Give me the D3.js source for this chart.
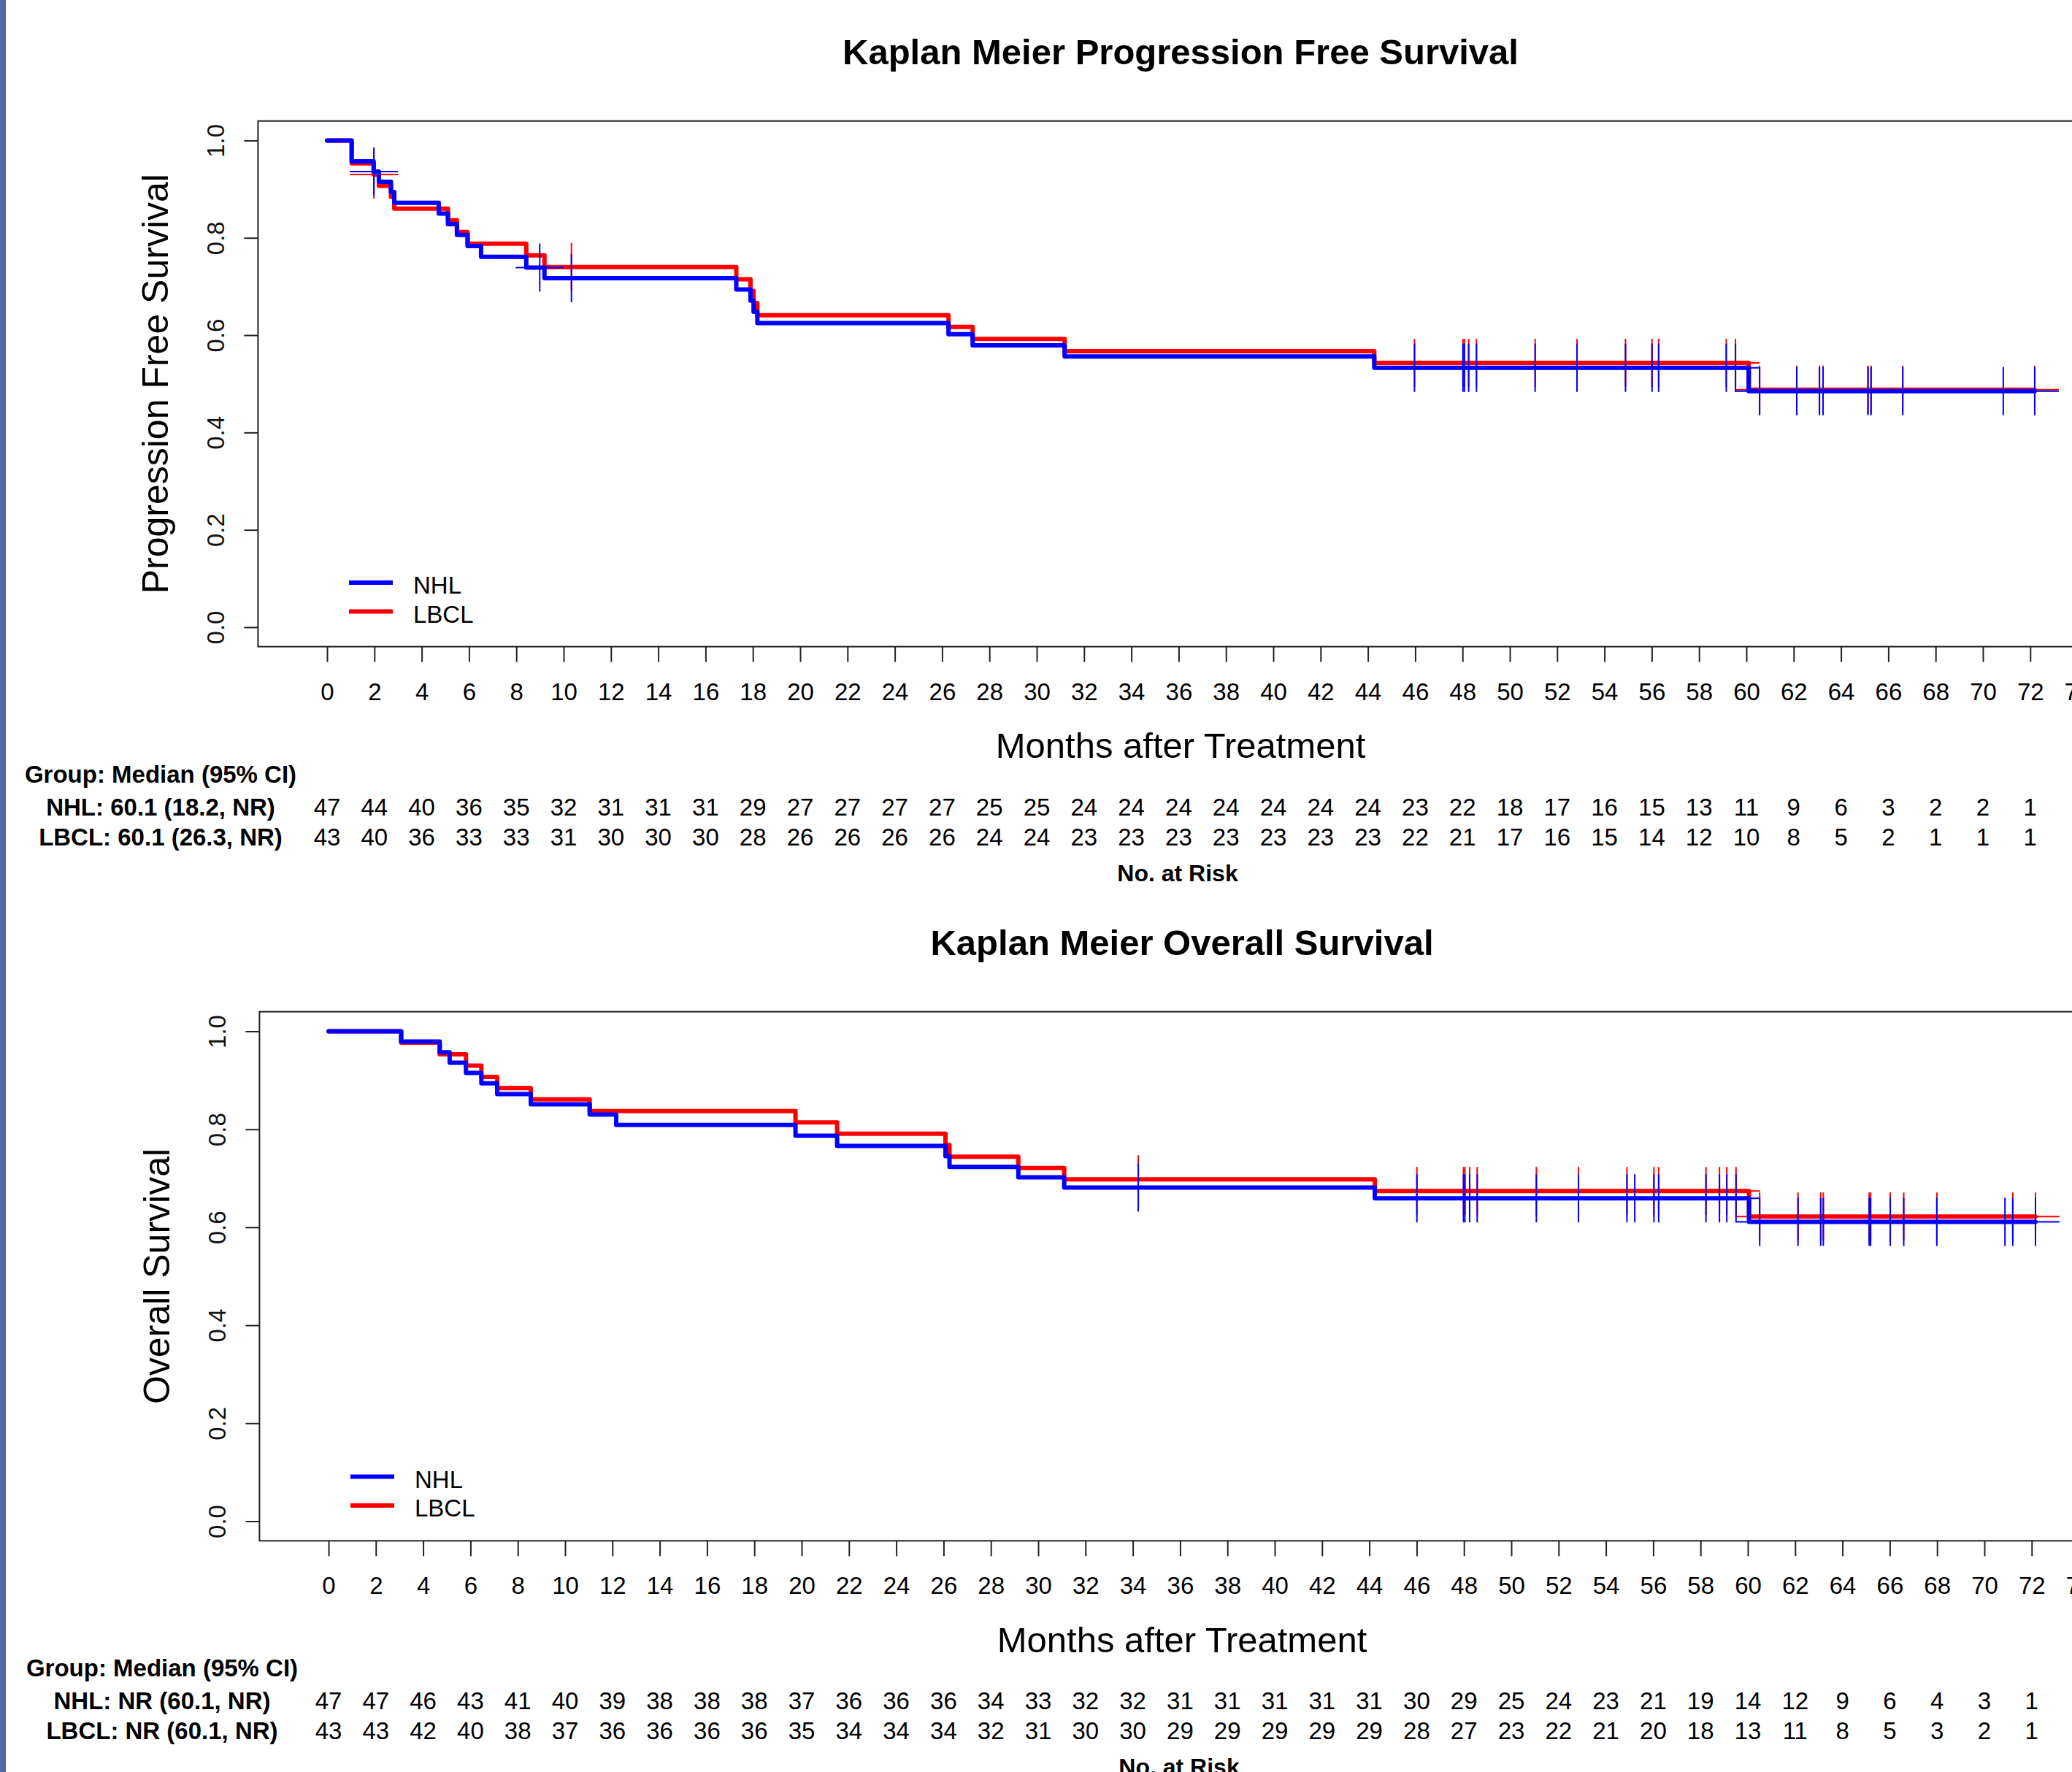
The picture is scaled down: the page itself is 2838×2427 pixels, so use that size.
<!DOCTYPE html>
<html>
<head>
<meta charset="utf-8">
<script src="https://cdn.jsdelivr.net/npm/d3@7"></script>
<style>
  body { margin: 0; background: #fff; }
  svg { display: block; font-family: "Liberation Sans", Arial, Helvetica, sans-serif; }
  .title { font-size: 49px; font-weight: bold; }
  .axis-title { font-size: 49px; }
  .axis-title.y { font-size: 50px; }
  .tick-label { font-size: 33px; }
  .legend-label { font-size: 33px; }
  .risk { font-size: 33px; }
  .group-label { font-size: 33px; font-weight: bold; }
  .risk-title { font-size: 32px; font-weight: bold; }
</style>
</head>
<body>
<div id="chart"></div>
<script>
// Axis ticks
const xTicks = [0, 2, 4, 6, 8, 10, 12, 14, 16, 18, 20, 22, 24, 26, 28, 30, 32, 34, 36,
                38, 40, 42, 44, 46, 48, 50, 52, 54, 56, 58, 60, 62, 64, 66, 68, 70, 72, 74];
const yTicks = [0, 0.2, 0.4, 0.6, 0.8, 1.0];
const riskTimes = [0, 2, 4, 6, 8, 10, 12, 14, 16, 18, 20, 22, 24, 26, 28, 30, 32, 34, 36,
                   38, 40, 42, 44, 46, 48, 50, 52, 54, 56, 58, 60, 62, 64, 66, 68, 70, 72];
const groups = ['NHL', 'LBCL'];

// Progression free survival: step times (months) and survival after each step
const pfsNhlTimes = [0, 1.04, 1.97, 2.19, 2.70, 2.84, 4.72, 5.11, 5.49, 5.94, 6.51, 8.42, 9.19,
                     17.30, 17.90, 18.03, 18.19, 26.27, 27.29, 31.18, 44.27, 60.10];
const pfsNhlSurv  = [1, 0.957, 0.936, 0.915, 0.894, 0.872, 0.850, 0.828, 0.806, 0.783, 0.761, 0.739, 0.717,
                     0.694, 0.671, 0.648, 0.625, 0.602, 0.579, 0.556, 0.533, 0.485];
const pfsNhlCensor = [1.98, 8.99, 10.33, 45.97, 48.02, 48.08, 48.26, 48.59, 51.07, 52.84, 54.89, 56.01,
                      56.29, 59.15, 59.54, 60.56, 62.13, 63.09, 63.24, 65.14, 65.27, 66.61, 70.86, 72.19];
const pfsLbclTimes = [0, 1.04, 1.97, 2.19, 2.70, 2.84, 5.11, 5.49, 5.94, 8.42, 9.19,
                      17.30, 17.90, 18.03, 18.19, 26.27, 27.29, 31.18, 44.27, 60.10];
const pfsLbclSurv  = [1, 0.953, 0.930, 0.907, 0.884, 0.860, 0.836, 0.812, 0.788, 0.764, 0.740,
                      0.715, 0.691, 0.666, 0.641, 0.617, 0.592, 0.567, 0.543, 0.488];
const pfsLbclCensor = [1.98, 10.33, 45.97, 48.02, 48.08, 48.26, 48.59, 51.07, 52.84, 54.89, 56.01,
                       56.29, 59.15, 59.54, 60.56, 62.13, 63.09, 63.24, 65.14, 65.27, 66.61, 72.19];
const pfsNhlRisk  = [47, 44, 40, 36, 35, 32, 31, 31, 31, 29, 27, 27, 27, 27, 25, 25, 24, 24, 24,
                     24, 24, 24, 24, 23, 22, 18, 17, 16, 15, 13, 11, 9, 6, 3, 2, 2, 1];
const pfsLbclRisk = [43, 40, 36, 33, 33, 31, 30, 30, 30, 28, 26, 26, 26, 26, 24, 24, 23, 23, 23,
                     23, 23, 23, 23, 22, 21, 17, 16, 15, 14, 12, 10, 8, 5, 2, 1, 1, 1];

// Overall survival
const osNhlTimes = [0, 3.07, 4.70, 5.12, 5.81, 6.46, 7.13, 8.55, 11.04, 12.16, 19.74, 21.50,
                    26.08, 26.25, 29.16, 31.10, 44.23, 60.05];
const osNhlSurv  = [1, 0.979, 0.957, 0.936, 0.915, 0.894, 0.872, 0.851, 0.830, 0.809, 0.787, 0.766,
                    0.745, 0.723, 0.702, 0.681, 0.659, 0.611];
const osNhlCensor = [34.23, 46.01, 47.98, 48.04, 48.24, 48.56, 51.06, 52.84, 54.89, 55.22, 56.03, 56.23,
                     58.23, 58.80, 59.11, 59.50, 60.50, 62.12, 63.08, 63.19, 65.13, 65.19, 66.02, 66.59,
                     67.99, 70.87, 71.20, 72.16];
const osLbclTimes = [0, 3.07, 4.70, 5.81, 6.46, 7.13, 8.55, 11.04, 19.74, 21.50,
                     26.08, 26.25, 29.16, 31.10, 44.23, 60.05];
const osLbclSurv  = [1, 0.977, 0.953, 0.930, 0.907, 0.884, 0.861, 0.837, 0.814, 0.791,
                     0.768, 0.744, 0.721, 0.698, 0.674, 0.622];
const osLbclCensor = [34.23, 46.01, 47.98, 48.04, 48.24, 48.56, 51.06, 52.84, 54.89, 56.03, 56.23,
                      58.23, 58.80, 59.11, 59.50, 60.50, 62.12, 63.08, 63.19, 65.13, 65.19, 66.02, 66.59,
                      67.99, 71.20, 72.16];
const osNhlRisk  = [47, 47, 46, 43, 41, 40, 39, 38, 38, 38, 37, 36, 36, 36, 34, 33, 32, 32, 31,
                    31, 31, 31, 31, 30, 29, 25, 24, 23, 21, 19, 14, 12, 9, 6, 4, 3, 1];
const osLbclRisk = [43, 43, 42, 40, 38, 37, 36, 36, 36, 36, 35, 34, 34, 34, 32, 31, 30, 30, 29,
                    29, 29, 29, 29, 28, 27, 23, 22, 21, 20, 18, 13, 11, 8, 5, 3, 2, 1];


class KMPanel {

    constructor(svg, series, config = {}) {
        let self = this;
        this.svg = svg;
        this.series = series;

        this.cfg = {
            'x0': 448,          // pixel of month 0
            'y1': 192.4,        // pixel of survival 1.0
            'y0': 859,          // pixel of survival 0.0
            'monthWidth': 32.4,
            'xmax': 73,
            'title': '',
            'ylabel': '',
            'markSize': 33,
            'lineWidth': 6
        };
        Object.keys(config).forEach(function(key) { self.cfg[key] = config[key]; });

        this.xScale = d3.scaleLinear()
            .domain([0, 72])
            .range([this.cfg.x0, this.cfg.x0 + 72 * this.cfg.monthWidth]);
        this.yScale = d3.scaleLinear()
            .domain([0, 1])
            .range([this.cfg.y0, this.cfg.y1]);

        this.line = d3.line()
            .curve(d3.curveStepAfter)
            .x(function(d) { return self.xScale(d[0]); })
            .y(function(d) { return self.yScale(d[1]); });

        this.draw();
    }

    survAt(s, t) {
        let i = d3.bisectRight(s.times, t) - 1;
        return s.surv[Math.max(i, 0)];
    }

    draw() {
        let self = this;
        let cfg = this.cfg;
        let pad = 0.04 * cfg.xmax;
        let left = this.xScale(-pad),
            right = this.xScale(cfg.xmax + pad),
            top = this.yScale(1.04),
            bottom = this.yScale(-0.04);

        this.g = this.svg.append('g').attr('class', 'km-panel');

        // TITLE
        this.g.append('text')
            .attr('class', 'title')
            .attr('text-anchor', 'middle')
            .attr('x', cfg.x0 + 1169)
            .attr('y', cfg.y1 - 104.4)
            .text(cfg.title);

        // FRAME
        this.g.append('rect')
            .attr('x', left).attr('y', top)
            .attr('width', right - left).attr('height', bottom - top)
            .attr('fill', 'none')
            .attr('stroke', '#222')
            .attr('stroke-width', 2);

        // X AXIS
        let xAxis = this.g.append('g')
            .attr('class', 'axis axis--x')
            .attr('transform', 'translate(0,' + bottom + ')')
            .call(d3.axisBottom(this.xScale)
                .tickValues(xTicks)
                .tickSize(21)
                .tickFormat(d3.format('d')));
        xAxis.select('.domain').remove();
        xAxis.selectAll('line').attr('stroke', '#222').attr('stroke-width', 2);
        xAxis.selectAll('text')
            .attr('class', 'tick-label')
            .attr('y', cfg.y0 + 100 - bottom)
            .attr('dy', null)
            .attr('fill', '#000');
        xAxis.attr('font-size', null).attr('font-family', null);

        // Y AXIS
        let yAxis = this.g.append('g')
            .attr('class', 'axis axis--y')
            .attr('transform', 'translate(' + left + ',0)')
            .call(d3.axisLeft(this.yScale)
                .tickValues(yTicks)
                .tickSize(19)
                .tickFormat(d3.format('.1f')));
        yAxis.select('.domain').remove();
        yAxis.selectAll('line').attr('stroke', '#222').attr('stroke-width', 2);
        yAxis.selectAll('text')
            .attr('class', 'tick-label')
            .attr('x', null)
            .attr('dy', null)
            .attr('text-anchor', 'middle')
            .attr('fill', '#111')
            .attr('transform', 'translate(' + (cfg.x0 - 141 - left) + ',0) rotate(-90)');
        yAxis.attr('font-size', null).attr('font-family', null);

        // AXIS TITLES
        this.g.append('text')
            .attr('class', 'axis-title y')
            .attr('text-anchor', 'middle')
            .attr('transform', 'translate(' + (cfg.x0 - 218) + ',' + ((cfg.y0 + cfg.y1) / 2) + ') rotate(-90)')
            .text(cfg.ylabel);

        this.g.append('text')
            .attr('class', 'axis-title')
            .attr('text-anchor', 'middle')
            .attr('x', cfg.x0 + 1169)
            .attr('y', cfg.y0 + 179)
            .text('Months after Treatment');

        // CURVES: LBCL underneath, NHL on top
        let order = this.series.slice().reverse();
        order.forEach(function(s) {
            let pts = s.times.map(function(t, i) { return [t, s.surv[i]]; });
            pts.push([s.end, s.surv[s.surv.length - 1]]);

            let sg = self.g.append('g').attr('class', 'km-group d3-' + s.key);

            sg.append('path')
                .attr('class', 'line')
                .attr('d', self.line(pts))
                .attr('fill', 'none')
                .attr('stroke', s.color)
                .attr('stroke-width', cfg.lineWidth)
                .attr('stroke-linejoin', 'round')
                .attr('stroke-linecap', 'round');

            // censor marks ("+")
            sg.selectAll('.censor')
                .data(s.censor).enter()
                .append('path')
                .attr('class', 'censor')
                .attr('d', function(t) {
                    let cx = self.xScale(t), cy = self.yScale(self.survAt(s, t)), m = cfg.markSize;
                    return 'M' + (cx - m) + ',' + cy + 'H' + (cx + m) + 'M' + cx + ',' + (cy - m) + 'V' + (cy + m);
                })
                .attr('fill', 'none')
                .attr('stroke', s.color)
                .attr('stroke-width', 2);
        });

        // LEGEND
        let legend = this.g.selectAll('.legend')
            .data(this.series).enter()
            .append('g')
            .attr('class', 'legend')
            .attr('transform', function(d, i) {
                return 'translate(' + cfg.x0 + ',' + (cfg.y0 - 61 + i * 39.5) + ')';
            });
        legend.append('line')
            .attr('x1', 30).attr('x2', 90)
            .attr('stroke', function(d) { return d.color; })
            .attr('stroke-width', cfg.lineWidth);
        legend.append('text')
            .attr('class', 'legend-label')
            .attr('x', 118)
            .attr('y', 15)
            .text(function(d) { return d.key; });

        // NUMBER AT RISK TABLE
        this.g.append('text')
            .attr('class', 'group-label')
            .attr('text-anchor', 'middle')
            .attr('x', cfg.x0 - 228)
            .attr('y', cfg.y0 + 212.7)
            .text('Group: Median (95% CI)');

        this.series.forEach(function(s, k) {
            let rowY = cfg.y0 + 257.5 + k * 41;
            self.g.append('text')
                .attr('class', 'group-label')
                .attr('text-anchor', 'middle')
                .attr('x', cfg.x0 - 228)
                .attr('y', rowY)
                .text(s.key + ': ' + s.median);

            self.g.selectAll('.risk-' + s.key)
                .data(s.risk).enter()
                .append('text')
                .attr('class', 'risk risk-' + s.key)
                .attr('text-anchor', 'middle')
                .attr('x', function(d, i) { return self.xScale(riskTimes[i]); })
                .attr('y', rowY)
                .text(function(d) { return d; });
        });

        this.g.append('text')
            .attr('class', 'risk-title')
            .attr('text-anchor', 'middle')
            .attr('x', cfg.x0 + 1165)
            .attr('y', cfg.y0 + 347.7)
            .text('No. at Risk');
    }
}

const W = 2838, H = 2427;
const svg = d3.select('#chart').append('svg')
    .attr('width', W)
    .attr('height', H)
    .attr('viewBox', '0 0 ' + W + ' ' + H);

svg.append('rect').attr('width', W).attr('height', H).attr('fill', '#fff');

new KMPanel(svg, [
    {key: groups[0], color: '#0000FF', times: pfsNhlTimes, surv: pfsNhlSurv, censor: pfsNhlCensor,
     end: pfsNhlCensor[pfsNhlCensor.length - 1], risk: pfsNhlRisk, median: '60.1 (18.2, NR)'},
    {key: groups[1], color: '#FF0000', times: pfsLbclTimes, surv: pfsLbclSurv, censor: pfsLbclCensor,
     end: pfsLbclCensor[pfsLbclCensor.length - 1], risk: pfsLbclRisk, median: '60.1 (26.3, NR)'}
], {
    'x0': 448, 'y1': 192.4, 'y0': 859,
    'title': 'Kaplan Meier Progression Free Survival',
    'ylabel': 'Progression Free Survival'
});

new KMPanel(svg, [
    {key: groups[0], color: '#0000FF', times: osNhlTimes, surv: osNhlSurv, censor: osNhlCensor,
     end: osNhlCensor[osNhlCensor.length - 1], risk: osNhlRisk, median: 'NR (60.1, NR)'},
    {key: groups[1], color: '#FF0000', times: osLbclTimes, surv: osLbclSurv, censor: osLbclCensor,
     end: osLbclCensor[osLbclCensor.length - 1], risk: osLbclRisk, median: 'NR (60.1, NR)'}
], {
    'x0': 450, 'y1': 1412.5, 'y0': 2083.5,
    'title': 'Kaplan Meier Overall Survival',
    'ylabel': 'Overall Survival'
});

// window frame strip on the left edge
svg.append('rect')
    .attr('x', 0).attr('y', 0)
    .attr('width', 8).attr('height', H)
    .attr('fill', '#4f68a8');
</script>
</body>
</html>
